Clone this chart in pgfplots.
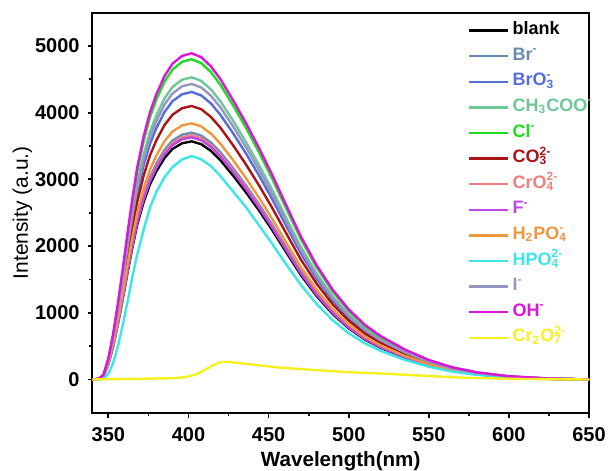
\documentclass[border=0pt]{standalone}
\usepackage{pgfplots}
\pgfplotsset{compat=1.18}
\usepackage{pgfplotstable}
\usepackage{fontspec}
\setmainfont{Liberation Sans}

\definecolor{cbr}{RGB}{105,140,180}
\definecolor{cbro}{RGB}{85,110,220}
\definecolor{cac}{RGB}{110,200,150}
\definecolor{ccl}{RGB}{30,220,30}
\definecolor{cco}{RGB}{170,20,20}
\definecolor{ccro}{RGB}{240,128,128}
\definecolor{cf}{RGB}{190,70,230}
\definecolor{chh}{RGB}{240,150,60}
\definecolor{chp}{RGB}{60,230,230}
\definecolor{ci}{RGB}{150,150,195}
\definecolor{coh}{RGB}{220,20,220}
\definecolor{ccr}{RGB}{245,240,30}

\newcommand{\sbsp}[2]{\makebox[0pt][l]{\textsubscript{#1}}\textsuperscript{#2}}

\pgfplotstableread{
x   bl   br   bro  ac   cl   co   cro  f    hh   hp   i    oh
340 0    0    0    0    0    0    0    0    0    0    0    0
344 7    7    9    9    10   8    7    7    8    0    9    10
347 54   56   65   68   72   62   55   54   58   13   66   73
350 232  241  280  294  312  267  238  236  250  84   288  318
353 500  518  603  634  672  574  512  508  538  251  620  685
356 839  870  1013 1065 1128 964  860  853  902  503  1041 1149
359 1214 1258 1465 1540 1632 1394 1244 1234 1306 821  1506 1663
362 1607 1665 1940 2039 2160 1845 1647 1634 1728 1173 1994 2201
365 1981 2054 2392 2514 2664 2276 2031 2015 2131 1541 2459 2714
368 2321 2405 2802 2945 3120 2665 2379 2360 2496 1876 2880 3179
372 2660 2757 3211 3375 3576 3055 2727 2704 2861 2245 3300 3643
376 2927 3034 3534 3715 3936 3362 3001 2977 3149 2580 3633 4010
380 3124 3238 3771 3964 4200 3588 3203 3176 3360 2814 3876 4279
385 3320 3441 4008 4213 4464 3813 3404 3376 3571 3032 4120 4548
390 3456 3582 4172 4385 4646 3969 3543 3514 3717 3183 4288 4734
396 3541 3670 4276 4494 4762 4067 3631 3601 3809 3300 4395 4851
402 3570 3700 4310 4530 4800 4100 3660 3630 3840 3350 4430 4890
408 3527 3656 4258 4476 4742 4051 3616 3586 3794 3300 4377 4831
414 3427 3552 4138 4349 4608 3936 3514 3485 3686 3199 4253 4694
420 3284 3404 3965 4168 4416 3772 3367 3340 3533 3049 4076 4499
428 3052 3164 3685 3873 4104 3506 3129 3104 3283 2814 3788 4181
436 2802 2905 3383 3556 3768 3219 2873 2850 3014 2580 3478 3839
444 2535 2627 3060 3216 3408 2911 2599 2577 2726 2312 3145 3472
452 2249 2331 2715 2854 3024 2583 2306 2287 2419 2044 2791 3081
460 1946 2017 2349 2469 2616 2235 1995 1978 2093 1759 2414 2665
470 1571 1628 1896 1993 2112 1804 1610 1597 1690 1424 1949 2152
480 1250 1295 1509 1586 1680 1435 1281 1271 1344 1132 1551 1712
490 982  1018 1185 1246 1320 1128 1007 998  1056 888  1218 1345
500 768  796  927  974  1032 882  787  780  826  693  952  1051
510 600  622  724  761  806  689  615  610  645  543  744  822
520 475  492  573  602  638  545  487  483  511  429  589  650
535 328  340  397  417  442  377  337  334  353  295  408  450
550 214  222  259  272  288  246  220  218  230  191  266  293
565 132  137  159  168  178  152  135  134  142  117  164  181
580 79   81   95   100  106  90   81   80   84   70   97   108
600 36   37   43   45   48   41   37   36   38   30   44   49
625 11   11   13   14   14   12   11   11   12   10   13   15
650 0    0    0    0    0    0    0    0    0    0    0    0
}\spectra

\pgfplotstableread{
x   y
340 0
350 5
370 10
390 20
398 35
405 80
410 140
415 210
420 260
425 265
430 250
440 225
456 180
480 140
500 110
520 90
540 65
560 40
575 25
600 10
625 5
650 0
}\dichromate

\begin{document}
\begin{tikzpicture}
\useasboundingbox (-46.2pt,-29pt) rectangle (258.4pt,206.5pt);
\begin{axis}[
  at={(0,0)}, anchor=south west,
  scale only axis, width=248.4pt, height=200.2pt,
  xmin=340, xmax=650, ymin=-500, ymax=5500,
  xtick={350,400,...,650}, ytick={0,1000,...,5000},
  minor x tick num=1, minor y tick num=1,
  xtick pos=bottom, ytick pos=left,
  tick align=outside,
  axis line style={line width=1pt},
  every tick/.style={black, line width=0.9pt},
  major tick length=2.4pt, minor tick length=1.6pt,
  /pgf/number format/assume math mode=true,
  /pgf/number format/set thousands separator={},
  tick label style={font=\bfseries\fontsize{10}{12}\selectfont},
  xticklabel style={yshift=-1.5pt},
  yticklabel style={xshift=-0.5pt},
  xlabel={\bfseries Wavelength(nm)},
  ylabel={Intensity (a.u.)},
  xlabel style={at={(axis description cs:0.5,-0.12)}, anchor=center, font=\fontsize{10.3}{12}\selectfont},
  ylabel style={at={(axis description cs:-0.141,0.5)}, anchor=center, font=\fontsize{10.5}{12}\selectfont},
  legend cell align=left,
  legend style={at={(rel axis cs:0.756,0.978)}, anchor=north west, draw=none, fill=none,
    inner sep=0pt, row sep=4pt, font=\bfseries\fontsize{9}{10}\selectfont,
    nodes={inner sep=0pt, text height=6.5pt, text depth=2.3pt},
    /tikz/every odd column/.append style={column sep=1.5pt}},
  legend image code/.code={\draw[#1] (0pt,0pt) -- (19.5pt,0pt);},
  every axis plot/.append style={line width=1.2pt, no markers},
]
\addplot[black] table[x=x,y=bl] {\spectra};
\addlegendentry{blank}
\addplot[cbr] table[x=x,y=br] {\spectra};
\addlegendentry{\textcolor{cbr}{Br\textsuperscript{-}}}
\addplot[cbro] table[x=x,y=bro] {\spectra};
\addlegendentry{\textcolor{cbro}{BrO\sbsp{3}{-}}}
\addplot[cac] table[x=x,y=ac] {\spectra};
\addlegendentry{\textcolor{cac}{CH\textsubscript{3}COO\textsuperscript{-}}}
\addplot[ccl] table[x=x,y=cl] {\spectra};
\addlegendentry{\textcolor{ccl}{Cl\textsuperscript{-}}}
\addplot[cco] table[x=x,y=co] {\spectra};
\addlegendentry{\textcolor{cco}{CO\sbsp{3}{2-}}}
\addplot[ccro] table[x=x,y=cro] {\spectra};
\addlegendentry{\textcolor{ccro}{CrO\sbsp{4}{2-}}}
\addplot[cf] table[x=x,y=f] {\spectra};
\addlegendentry{\textcolor{cf}{F\textsuperscript{-}}}
\addplot[chh] table[x=x,y=hh] {\spectra};
\addlegendentry{\textcolor{chh}{H\textsubscript{2}PO\sbsp{4}{-}}}
\addplot[chp] table[x=x,y=hp] {\spectra};
\addlegendentry{\textcolor{chp}{HPO\sbsp{4}{2-}}}
\addplot[ci] table[x=x,y=i] {\spectra};
\addlegendentry{\textcolor{ci}{I\textsuperscript{-}}}
\addplot[coh] table[x=x,y=oh] {\spectra};
\addlegendentry{\textcolor{coh}{OH\textsuperscript{-}}}
\addplot[ccr] table[x=x,y=y] {\dichromate};
\addlegendentry{\textcolor{ccr}{Cr\textsubscript{2}O\sbsp{7}{2-}}}
\end{axis}
\end{tikzpicture}
\end{document}
